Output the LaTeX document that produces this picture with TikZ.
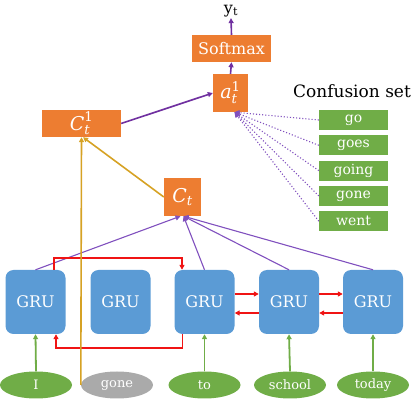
\documentclass[tikz,border=0pt]{standalone}
\usepackage{amsmath}
\usepackage{fontspec}
\setmainfont{DejaVu Serif}
\usetikzlibrary{arrows.meta,shapes.geometric,calc}
\definecolor{cOrange}{RGB}{237,125,49}
\definecolor{cBlue}{RGB}{91,155,213}
\definecolor{cGreen}{RGB}{112,173,71}
\definecolor{cGray}{RGB}{170,170,170}
\definecolor{cPurple}{RGB}{112,48,160}
\definecolor{cLPurple}{RGB}{128,80,190}
\definecolor{cYellow}{RGB}{214,162,36}
\definecolor{cRed}{RGB}{240,20,20}
\tikzset{
  tip/.style={-{Triangle[length=5pt,width=5pt]}},
  grubox/.style={draw=none,fill=cBlue,rounded corners=8pt,minimum width=60pt,minimum height=64pt,inner sep=0pt,text=white,font=\fontsize{16}{18}\selectfont},
  wordell/.style={ellipse,fill=cGreen,minimum width=72pt,minimum height=27pt,inner sep=0pt,text=white,font=\fontsize{13}{15}\selectfont},
  orbox/.style={fill=cOrange,inner sep=0pt,text=white},
  confbox/.style={fill=cGreen,minimum width=69pt,minimum height=20pt,inner sep=0pt,text=white,font=\fontsize{14}{16}\selectfont},
  greenarr/.style={tip,draw=cGreen,line width=1.8pt},
  purparr/.style={tip,draw=cLPurple,line width=1.1pt},
  redarr/.style={tip,draw=cRed,line width=1.8pt},
  yelarr/.style={tip,draw=cYellow,line width=1.6pt},
  dotarr/.style={tip,draw=cLPurple,line width=1.1pt,dotted},
  bigpurp/.style={tip,draw=cPurple,line width=1.6pt},
}
\begin{document}
\begin{tikzpicture}[x=1pt,y=-1pt]
\useasboundingbox (0,0) rectangle (413,406);
% GRU boxes
\node[grubox] (g1) at (35.5,302) {GRU};
\node[grubox] (g2) at (120.5,302) {GRU};
\node[grubox] (g3) at (204.5,302) {GRU};
\node[grubox] (g4) at (289,302) {GRU};
\node[grubox] (g5) at (373,302) {GRU};
% words
\node[wordell] (w1) at (36,385) {I};
\node[wordell,fill=cGray] (w2) at (117,385) {gone};
\node[wordell] (w3) at (204.5,385) {to};
\node[wordell] (w4) at (290,385) {school};
\node[wordell] (w5) at (373,385) {today};
% orange boxes
\node[orbox,minimum width=37pt,minimum height=38pt,font=\fontsize{19}{21}\selectfont] (ct) at (182.5,197) {$\textit{C}_{\textit{t}}$};
\node[orbox,minimum width=79pt,minimum height=27pt,font=\fontsize{19}{21}\selectfont] (ct1) at (81.5,123.5) {$\textit{C}_{\textit{t}}^{\textrm{1}}$};
\node[orbox,minimum width=35pt,minimum height=38pt,font=\fontsize{19}{21}\selectfont] (at) at (230.5,93) {$\textit{a}_{\textit{t}}^{\textrm{1}}$};
\node[orbox,minimum width=79pt,minimum height=27pt,font=\fontsize{16}{18}\selectfont] (soft) at (231.5,48.5) {Softmax};
\node[inner sep=1pt,font=\fontsize{16}{18}\selectfont] (yt) at (231,11) {y\textsubscript{t}};
% confusion set
\node[font=\fontsize{17}{19}\selectfont] (conf) at (352,91) {Confusion set};
\node[confbox] (c1) at (353.5,120) {go};
\node[confbox] (c2) at (353.5,145.3) {goes};
\node[confbox] (c3) at (353.5,170.6) {going};
\node[confbox] (c4) at (353.5,195.9) {gone};
\node[confbox] (c5) at (353.5,221.2) {went};
% green arrows
\foreach \i in {1,3,4,5} \draw[greenarr] (w\i.north) -- (g\i.south);
% purple to C_t
\draw[purparr] (g1.north) -- ([xshift=-2pt]ct.south);
\foreach \i in {3,4,5} \draw[purparr] (g\i.north) -- ([xshift=1pt]ct.south);
% red recurrent
\draw[redarr] ([xshift=18.5pt]g1.north) -- ++(0,-12) -| ([xshift=-22.5pt]g3.north);
\draw[redarr] ([xshift=-22pt]g3.south) -- ++(0,14) -| ([xshift=20.5pt]g1.south);
\draw[redarr] ([yshift=8pt]g3.east) -- ([yshift=8pt]g4.west);
\draw[redarr] ([yshift=-11pt]g4.west) -- ([yshift=-11pt]g3.east);
\draw[redarr] ([yshift=8pt]g4.east) -- ([yshift=8pt]g5.west);
\draw[redarr] ([yshift=-11pt]g5.west) -- ([yshift=-11pt]g4.east);
% yellow
\draw[yelarr] (w2.west) -- (ct1.south);
\draw[yelarr] (ct.west) -- ([xshift=1.5pt]ct1.south);
% upper purple
\draw[bigpurp] (ct1.east) -- (at.west);
\draw[bigpurp] (at.north) -- (soft.south);
\draw[bigpurp] (soft.north) -- (yt.south);
\foreach \i in {1,...,5} \draw[dotarr] (c\i.west) -- ([xshift=4pt]at.south);
\end{tikzpicture}
\end{document}
